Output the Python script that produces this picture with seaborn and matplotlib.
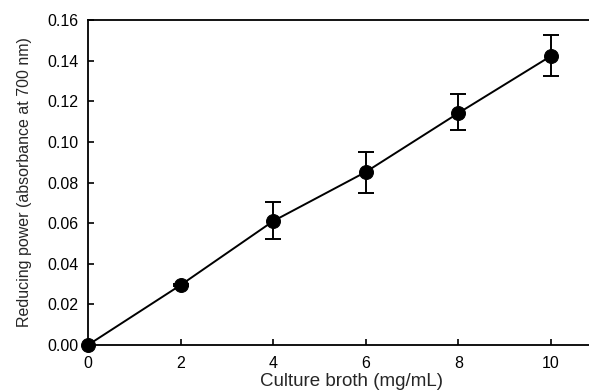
import matplotlib
matplotlib.use("Agg")
import matplotlib.pyplot as plt
import seaborn as sns
import pandas as pd

conc = [0, 2, 4, 6, 8, 10]
power = [0.000, 0.0295, 0.0610, 0.0852, 0.1142, 0.1423]
err_low = [0.000, 0.0005, 0.0088, 0.0104, 0.0084, 0.0099]
err_high = [0.000, 0.0005, 0.0094, 0.0098, 0.0094, 0.0103]
xticks = [0, 2, 4, 6, 8, 10]
yticks = [0.00, 0.02, 0.04, 0.06, 0.08, 0.10, 0.12, 0.14, 0.16]

sns.set_style("ticks")
plt.rcParams['font.family'] = ['Liberation Sans', 'DejaVu Sans']

df = pd.DataFrame({"conc": conc, "power": power})

fig = plt.figure(figsize=(5.89, 3.92), dpi=100)
ax = fig.add_axes([0.1494, 0.1199, 0.8647, 0.829])

ax.errorbar(conc, power, yerr=[err_low, err_high], fmt='none', ecolor='black',
            elinewidth=1.4, capsize=6, capthick=1.4, zorder=2)
sns.lineplot(data=df, x="conc", y="power", ax=ax, color='black', linewidth=1.4,
             marker='o', markersize=10, markeredgecolor='black',
             markerfacecolor='black', zorder=3, clip_on=False)

ax.set_xlim(0, 11)
ax.set_ylim(0, 0.16)
ax.set_xticks(xticks)
ax.set_yticks(yticks)
ax.set_yticklabels([f"{v:.2f}" for v in yticks])
ax.tick_params(direction='in', length=4, width=1.2, labelsize=11.5, colors='black')
ax.tick_params(axis='x', pad=8)
ax.tick_params(axis='y', pad=7)
ax.set_xlabel("Culture broth (mg/mL)", fontsize=13.5)
ax.xaxis.set_label_coords(0.517, -0.085, transform=ax.transAxes)
ax.set_ylabel("Reducing power (absorbance at 700 nm)", fontsize=11.5, labelpad=11)
for s in ['left', 'bottom', 'top', 'right']:
    ax.spines[s].set_linewidth(1.3)
    ax.spines[s].set_color('black')

fig.savefig("out.png", dpi=100)
